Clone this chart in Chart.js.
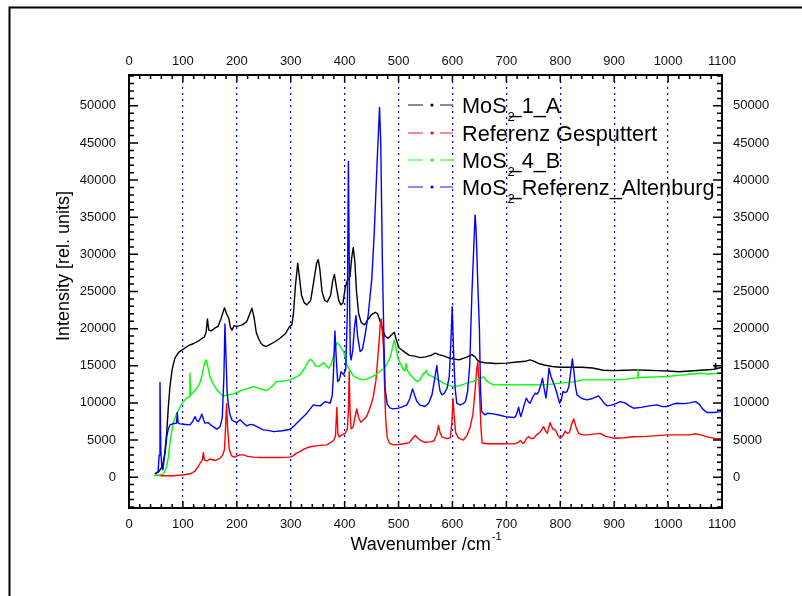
<!DOCTYPE html>
<html>
<head>
<meta charset="utf-8">
<script src="https://cdn.jsdelivr.net/npm/chart.js@4.4.1/dist/chart.umd.min.js"></script>
<style>
  html, body { margin: 0; padding: 0; background: #fff; }
  #wrap { position: relative; width: 802px; height: 596px; }
</style>
</head>
<body>
<div id="wrap"><canvas id="c"></canvas></div>
<script>
// ---------- DATA (wavenumber [cm-1], intensity [rel. units]) ----------
const seriesNames = ['MoS₂_1_A', 'Referenz Gesputtert', 'MoS₂_4_B', 'MoS₂_Referenz_Altenburg'];
const xTicks = [0, 100, 200, 300, 400, 500, 600, 700, 800, 900, 1000, 1100];
const yTicks = [0, 5000, 10000, 15000, 20000, 25000, 30000, 35000, 40000, 45000, 50000];

const mos2_1_A = [
  [48,450],[55,700],[62,1500],[66,3000],[70,6000],[73,9500],[76,12200],[80,14500],[85,16000],[92,16800],
  [100,17200],[110,17700],[120,18000],[130,18400],[140,18900],[143,19500],[145.5,21300],[148,19800],[152,19700],
  [160,20100],[165,20300],[170,21200],[177,22800],[181,22000],[185,21400],[188,20200],[191,19800],[195,20400],
  [200,20300],[210,20500],[218,20900],[223,21800],[228,22750],[232,21500],[236,19500],[240,18700],[245,18000],
  [250,17700],[255,17600],[260,17800],[270,18200],[280,18700],[290,19300],[298,20300],[302,20500],[305,22000],
  [309,26000],[313,28800],[316,27000],[320,24500],[325,23500],[330,23200],[337,23800],[343,26500],[348,28800],
  [351,29300],[354,28000],[358,25000],[363,23800],[368,23600],[374,24500],[378,26500],[381,27300],[385,25500],
  [389,23800],[393,23200],[397,23500],[401,25500],[405,26500],[410,27000],[413,29500],[416,30900],[419,29000],
  [422,25000],[426,22000],[431,20800],[437,20500],[444,21300],[450,21900],[457,22200],[461,22000],[465,21200],
  [470,20000],[475,19000],[480,18700],[487,19150],[492,19500],[496,18500],[500,17500],[505,17200],[512,16800],
  [520,16400],[530,16300],[540,16100],[550,16200],[560,16400],[568,16700],[575,16500],[585,16300],[595,16000],
  [605,15900],[612,15800],[620,16000],[628,16200],[636,16500],[642,16200],[647,15700],[652,15500],[660,15400],
  [680,15300],[700,15350],[720,15500],[735,15600],[744,15800],[752,15600],[760,15300],[770,15100],[785,14900],
  [800,14800],[820,14800],[840,14800],[860,14700],[880,14400],[900,14350],[920,14400],[940,14450],[960,14400],
  [980,14350],[1000,14300],[1020,14200],[1040,14300],[1060,14400],[1080,14500],[1087,14550],[1088,15300],
  [1089,14600],[1100,14800]
];

const referenzGesputtert = [
  [48,300],[60,200],[80,200],[100,300],[115,500],[122,800],[127,1300],[132,1900],[136,2300],[138,3300],
  [140,2300],[145,2200],[150,2450],[160,2250],[168,2500],[173,2900],[177,3700],[179,6500],[181,9900],[183,6500],
  [186,3800],[190,2900],[195,2700],[200,2850],[205,3000],[212,3000],[220,2800],[231,2700],[245,2650],[260,2650],
  [280,2650],[299,2700],[305,2900],[310,3200],[317,3450],[325,3800],[336,4100],[350,4250],[367,4350],[375,4700],
  [380,5000],[383,5500],[385.5,9400],[387.5,5800],[390,5400],[395,5700],[401,5900],[405,6500],[407,9000],
  [408.5,14200],[410,9000],[412,6500],[416,6800],[419,8000],[422.5,9200],[426,8000],[430,7400],[436,7800],
  [441,8200],[447,9300],[453,10800],[458,13000],[463,17400],[466,20500],[468,21300],[470,19500],[472,17600],
  [474,12500],[476,8000],[479,5300],[483,4600],[490,4350],[500,4400],[510,4500],[520,4650],[526,5200],[531,5600],
  [535,5300],[540,5000],[548,4700],[559,4750],[566,4900],[571,5800],[574,6950],[577,6000],[581,5400],[590,5200],
  [596,5300],[599,7500],[601,10600],[603,8500],[606,6000],[611,5300],[620,5000],[627,5600],[633,6800],[638,8500],
  [642,11700],[645,14500],[647,15500],[649,13000],[651,9900],[653,6500],[655,4600],[665,4500],[690,4500],
  [715,4480],[722,4700],[726,4950],[730,4600],[733,4600],[737,5200],[741,5450],[746,5200],[751,5250],[756,5700],
  [760,5900],[764,6200],[769,6800],[773,6200],[776,5900],[781,7350],[786,6500],[791,6350],[796,5600],[800,5250],
  [805,5600],[809,6200],[813,5900],[817,6000],[821,7100],[825,7850],[829,6800],[834,5900],[842,5700],[850,5700],
  [862,5800],[874,5900],[885,5500],[899,5250],[920,5300],[936,5450],[960,5500],[980,5600],[998,5700],[1020,5700],
  [1040,5700],[1051,5850],[1060,5700],[1075,5400],[1091,5150],[1100,5200]
];

const mos2_4_B = [
  [47,200],[55,250],[64,450],[67,900],[70,1430],[73,2800],[76,4580],[79,6000],[82,7270],[88,8500],[95,9500],
  [101,10200],[107,10640],[112,10850],[113,14000],[114.5,11080],[120,11500],[126,11980],[131,12600],[135,13550],
  [139,15000],[143,15800],[146,15000],[150,13550],[155,12700],[163,11760],[170,11200],[175,10950],[185,11100],
  [194,11220],[203,11500],[212,11760],[222,12000],[231,12200],[240,12000],[248,11800],[256,11660],[265,12200],
  [274,12870],[285,12950],[299,13100],[308,13400],[317,13780],[325,14600],[331,15400],[336,15890],[341,15600],
  [346,15000],[351,14890],[356,15100],[361,15430],[366,15000],[370,14680],[375,15200],[380,16500],[384,17800],
  [386,18100],[390,17800],[395,17200],[398,16900],[405,15000],[416,13640],[425,13300],[433,13100],[441,13200],
  [450,13500],[458,13800],[465,14220],[472,14600],[478,15200],[485,16240],[489,17500],[492,18490],[495,17500],
  [499,16000],[503,15350],[509,14450],[512,14300],[514,15300],[516,14400],[521.6,13780],[528,13300],[534,12870],
  [540,13100],[546,14000],[549,14000],[551,14400],[555,13800],[565,13470],[574,13100],[583,12660],[592,12400],
  [602,12200],[612,12300],[620,12500],[627,12660],[638,12900],[648,13200],[655,13400],[658,13500],[664,12900],
  [676,12430],[700,12450],[720,12430],[745,12450],[763,12430],[780,12500],[800,12660],[820,12800],[843,13100],
  [870,13100],[899,13100],[920,13200],[936,13330],[943,13350],[944,14450],[945,13400],[960,13450],[980,13500],
  [998,13550],[1020,13700],[1040,13850],[1060,14000],[1075,13900],[1090,13950],[1100,14000]
];

const mos2_Referenz_Altenburg = [
  [48,450],[54,750],[56,3000],[57.5,12740],[59,3500],[61,1200],[63,1000],[65,2330],[68,4000],[70,5470],[73,6500],
  [76,7040],[82,7200],[88,7270],[89.7,8700],[91,7300],[95,7180],[105,7100],[113,7040],[118,7500],[122.5,8160],
  [126,7600],[129,7490],[133,8100],[135,8520],[138,7800],[141,7270],[147,7350],[152,7000],[158,6700],[163,6460],
  [169,6810],[173,8000],[176,13500],[178,20640],[180,16000],[182,11500],[184,9960],[187,8500],[190.6,7720],
  [195,7500],[200,7350],[206,7720],[212,7300],[218.5,6910],[225,7100],[231,7040],[240,6700],[249,6370],[258,6300],
  [268,6140],[285,6250],[299,6460],[305,6800],[311,7270],[320,7900],[330,8620],[342,9740],[348,9650],[354.6,9600],
  [364,10180],[373,9960],[377,11000],[379,13500],[382,19700],[384.5,16000],[387,12870],[390,13100],[393.5,14220],
  [398,13780],[402,14500],[405,22000],[407,42500],[409,25000],[410.5,16500],[412,15800],[415,17000],[418,20000],
  [421,21760],[424,19000],[428.8,16910],[433,17200],[438,19160],[444,22000],[450.5,26800],[455,33000],[460,42000],
  [464.7,49770],[467,45000],[470,29030],[473,18000],[475,11980],[479,9800],[484.5,9290],[490,9200],[500,9290],
  [508,9500],[515.5,9740],[521,10600],[526,11890],[530,11000],[534,10180],[540,9700],[549,9510],[556,10000],
  [562,11080],[566,12800],[571,15030],[574,13000],[577,11600],[580.5,11080],[585,11300],[590,11980],[594,13500],
  [597,18000],[599.5,22970],[602,17000],[605,11980],[608,9960],[614,9740],[620,9900],[624,10180],[628,11500],
  [632,15000],[636,24550],[639,30000],[642,35320],[644,33000],[647,26000],[650,20060],[652,12000],[654,8830],
  [660,8400],[665,8600],[676,8520],[690,8300],[698,8160],[713,8030],[717,8160],[720,8700],[722.7,9430],[725,8600],
  [727,8160],[731,9200],[735,10200],[737,10640],[741,10100],[744,9960],[749,10800],[753.7,11310],[757,11200],
  [760,11530],[764,12400],[767,13330],[770,12000],[773.5,10640],[776,12200],[779,14680],[783,13500],[787.7,12660],
  [793,11500],[798.8,9960],[802,10400],[805,11530],[809,11400],[812.5,11530],[816,12200],[819,14000],[822.4,15930],
  [825,14500],[828,12300],[831,11080],[840,10600],[849.6,10410],[860,10600],[871,10950],[876,10500],[881,10000],
  [887,9600],[895,9700],[903,9900],[911.5,10180],[920,10000],[928,9600],[936,9290],[950,9400],[965,9600],
  [979.6,9740],[990,9500],[998,9510],[1008,9800],[1016.7,9960],[1030,9900],[1040,10000],[1051,10180],[1058,9800],
  [1064,9200],[1072,8700],[1085,8700],[1097,8830],[1100,8900]
];

// ---------- STYLE ----------
const seriesColors = ['#000000', '#ff0000', '#00ff00', '#0000ff'];
const legendDashColors = ['#666666', '#ff6666', '#66ff66', '#6666ff'];
const FONT = '"Liberation Sans", Arial, Helvetica, sans-serif';
const X_MIN = 0, X_MAX = 1100, Y_MIN = -4150, Y_MAX = 54150;
const X_MINOR = 20, Y_MINOR = 1000;

const allSeries = [mos2_1_A, referenzGesputtert, mos2_4_B, mos2_Referenz_Altenburg];
const datasets = allSeries.map((s, i) => ({
  label: seriesNames[i],
  data: s.map(p => ({ x: p[0], y: p[1] })),
  borderColor: seriesColors[i],
  backgroundColor: seriesColors[i],
  borderWidth: 1.4,
  pointRadius: 0,
  tension: 0,
  fill: false,
  order: 4 - i
}));

function drawRich(ctx, text, x, y, size) {
  // draw text where '₂' is rendered as a lowered small "2"
  const parts = text.split('₂');
  let cx = x;
  parts.forEach((p, idx) => {
    ctx.font = size + 'px ' + FONT;
    ctx.fillText(p, cx, y);
    cx += ctx.measureText(p).width;
    if (idx < parts.length - 1) {
      ctx.font = Math.round(size * 0.62) + 'px ' + FONT;
      ctx.fillText('2', cx + 1, y + 8);
      cx += 3;
    }
  });
}

const decor = {
  id: 'decor',
  afterDraw(chart) {
    const { ctx, chartArea: a, scales } = chart;
    const x = scales.x, y = scales.y;
    ctx.save();
    // inward ticks
    ctx.strokeStyle = '#000';
    ctx.lineWidth = 1.5;
    ctx.beginPath();
    for (let v = X_MIN; v <= X_MAX; v += X_MINOR) {
      const px = x.getPixelForValue(v);
      const L = (v % 100 === 0) ? 7 : 4;
      ctx.moveTo(px, a.bottom); ctx.lineTo(px, a.bottom - L);
      ctx.moveTo(px, a.top); ctx.lineTo(px, a.top + L);
    }
    for (let v = Math.ceil(Y_MIN / Y_MINOR) * Y_MINOR; v <= Y_MAX; v += Y_MINOR) {
      const py = y.getPixelForValue(v);
      const L = (v % 5000 === 0) ? 9 : 5;
      ctx.moveTo(a.left, py); ctx.lineTo(a.left + L, py);
      ctx.moveTo(a.right, py); ctx.lineTo(a.right - L, py);
    }
    ctx.stroke();

    // outer frame
    ctx.lineWidth = 2;
    ctx.beginPath();
    ctx.moveTo(9.5, 600); ctx.lineTo(9.5, 7.5); ctx.lineTo(805, 7.5);
    ctx.stroke();

    // axis titles
    ctx.fillStyle = '#000';
    ctx.font = '18px ' + FONT;
    ctx.textBaseline = 'middle';
    ctx.textAlign = 'left';
    const t1 = 'Wavenumber /cm';
    const w1 = ctx.measureText(t1).width;
    ctx.font = '11px ' + FONT;
    const w2 = ctx.measureText('-1').width;
    const sx = (a.left + a.right) / 2 - (w1 + w2) / 2;
    ctx.font = '18px ' + FONT;
    ctx.fillText(t1, sx, 545);
    ctx.font = '11px ' + FONT;
    ctx.fillText('-1', sx + w1 + 1, 537);

    ctx.save();
    ctx.translate(64, 266);
    ctx.rotate(-Math.PI / 2);
    ctx.textAlign = 'center';
    ctx.font = '18px ' + FONT;
    ctx.fillText('Intensity [rel. units]', 0, 0);
    ctx.restore();

    // legend
    const rows = [105, 133, 160, 187];
    ctx.textBaseline = 'alphabetic';
    ctx.textAlign = 'left';
    seriesNames.forEach((name, i) => {
      const ry = rows[i];
      ctx.strokeStyle = legendDashColors[i];
      ctx.lineWidth = 1.5;
      ctx.beginPath();
      ctx.moveTo(408, ry); ctx.lineTo(423, ry);
      ctx.moveTo(440, ry); ctx.lineTo(453, ry);
      ctx.stroke();
      ctx.fillStyle = seriesColors[i];
      ctx.beginPath();
      ctx.arc(432, ry, 1.6, 0, Math.PI * 2);
      ctx.fill();
      ctx.fillStyle = '#000';
      drawRich(ctx, name, 462, ry + 7.5, 21.7);
    });
    ctx.restore();
  }
};

const tickFont = { family: FONT, size: 13 };
const setTicks = arr => s => { s.ticks = arr.map(v => ({ value: v })); };

new Chart(document.getElementById('c'), {
  type: 'line',
  data: { datasets },
  options: {
    responsive: true,
    maintainAspectRatio: false,
    animation: false,
    devicePixelRatio: 1,
    layout: { padding: 0 },
    plugins: { legend: { display: false }, tooltip: { enabled: false }, title: { display: false } },
    elements: { line: { borderJoinStyle: 'round' } },
    scales: {
      x: {
        type: 'linear', position: 'bottom', min: X_MIN, max: X_MAX,
        afterBuildTicks: setTicks(xTicks),
        afterFit: s => { s.height = 88; },
        ticks: { font: tickFont, color: '#111', padding: 9, maxRotation: 0, autoSkip: false, callback: v => String(v) },
        grid: {
          drawTicks: false, drawOnChartArea: true, lineWidth: 1.2,
          color: c => (c.tick && (c.tick.value === X_MIN || c.tick.value === X_MAX)) ? 'rgba(0,0,0,0)' : '#0000ff'
        },
        border: { display: true, color: '#000', width: 2, dash: [2, 4] }
      },
      x2: {
        type: 'linear', position: 'top', min: X_MIN, max: X_MAX,
        afterBuildTicks: setTicks(xTicks),
        afterFit: s => { s.height = 75; },
        ticks: { font: tickFont, color: '#111', padding: 6, maxRotation: 0, autoSkip: false, callback: v => String(v) },
        grid: { drawTicks: false, drawOnChartArea: false },
        border: { display: true, color: '#000', width: 2 }
      },
      y: {
        type: 'linear', position: 'left', min: Y_MIN, max: Y_MAX,
        afterBuildTicks: setTicks(yTicks),
        afterFit: s => { s.width = 129; },
        ticks: { font: tickFont, color: '#111', padding: 13, autoSkip: false, callback: v => String(v) },
        grid: { drawTicks: false, drawOnChartArea: false },
        border: { display: true, color: '#000', width: 2 }
      },
      y2: {
        type: 'linear', position: 'right', min: Y_MIN, max: Y_MAX,
        afterBuildTicks: setTicks(yTicks),
        afterFit: s => { s.width = 80; },
        ticks: { font: tickFont, color: '#111', padding: 11, autoSkip: false, callback: v => String(v) },
        grid: { drawTicks: false, drawOnChartArea: false },
        border: { display: true, color: '#000', width: 2 }
      }
    }
  },
  plugins: [decor]
});
</script>
</body>
</html>
